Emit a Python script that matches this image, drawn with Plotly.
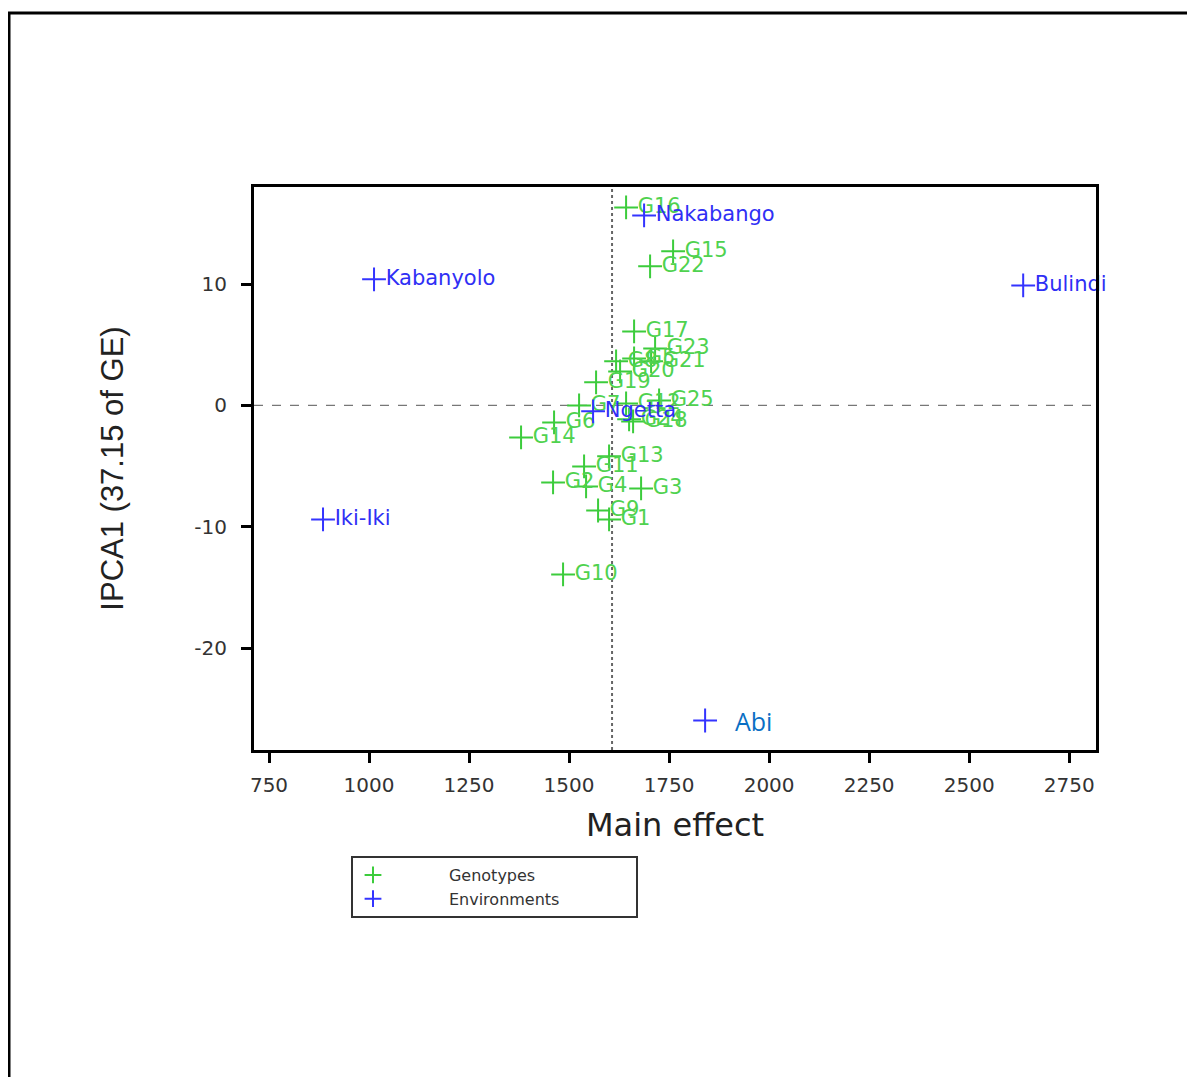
import numpy as np
import plotly.graph_objects as go

# ---------------- data ----------------
geno_names = ["G1", "G2", "G3", "G4", "G5", "G6", "G7", "G8", "G9", "G10",
              "G11", "G12", "G13", "G14", "G15", "G16", "G17", "G18", "G19", "G20",
              "G21", "G22", "G23", "G24", "G25"]
geno_main = [1600, 1460, 1680, 1542.5, 1662.5, 1462.5, 1525, 1617.5, 1572.5, 1485,
             1537.5, 1642.5, 1600, 1380, 1760, 1642.5, 1662.5, 1660, 1567.5, 1627.5,
             1705, 1702.5, 1715, 1650, 1725]
geno_ipca = [-9.40, -6.35, -6.84, -6.68, 3.87, -1.40, 0.0, 3.63, -8.66, -13.93,
             -5.03, 0.16, -4.20, -2.64, 12.70, 16.32, 6.10, -1.32, 1.90, 2.80,
             3.63, 11.46, 4.70, -1.15, 0.41]

env_names = ["Nakabango", "Kabanyolo", "Bulindi", "Ngetta", "Iki-Iki", "Abi"]
env_main = [1687.5, 1012.5, 2635, 1560, 885, 1840]
env_ipca = [15.66, 10.39, 9.89, -0.49, -9.40, -25.97]

x_ticks = [750, 1000, 1250, 1500, 1750, 2000, 2250, 2500, 2750]
y_ticks = [-20, -10, 0, 10]

GREEN = "#3ccc3c"
GREEN_TXT = "#4fd24f"
BLUE = "#3434ff"
BLUE_TXT = "#2f2ff5"
FONT = "DejaVu Sans, Verdana, Arial, sans-serif"

grand_mean = float(np.mean(geno_main))

env_labels = [n if n != "Abi" else "" for n in env_names]

NB = "\u00a0"

fig = go.Figure()
fig.add_trace(go.Scatter(
    x=geno_main, y=geno_ipca, mode="markers+text", name=NB * 11 + "Genotypes" + NB * 18,
    text=geno_names, textposition="middle right",
    textfont=dict(family=FONT, size=21, color=GREEN_TXT),
    marker=dict(symbol="cross-thin", size=17, color=GREEN, line=dict(color=GREEN, width=2)),
    cliponaxis=False,
))
fig.add_trace(go.Scatter(
    x=env_main, y=env_ipca, mode="markers+text", name=NB * 11 + "Environments" + NB * 14,
    text=env_labels, textposition="middle right",
    textfont=dict(family=FONT, size=21, color=BLUE_TXT),
    marker=dict(symbol="cross-thin", size=17, color=BLUE, line=dict(color=BLUE, width=2)),
    cliponaxis=False,
))

# Abi label (added separately in the original, different font/colour)
abi_i = env_names.index("Abi")
fig.add_annotation(x=env_main[abi_i], y=env_ipca[abi_i], text="Abi", showarrow=False,
                   xanchor="left", yanchor="middle", xshift=28,
                   font=dict(family="Open Sans, Noto Sans, sans-serif", size=25, color="#0a6fc4"))

# reference lines
fig.add_shape(type="line", xref="x", yref="paper", x0=grand_mean, x1=grand_mean, y0=0, y1=1,
              line=dict(color="#666666", width=2, dash="dot"), layer="below")
fig.add_shape(type="line", xref="paper", yref="y", x0=0, x1=1, y0=0, y1=0,
              line=dict(color="#777777", width=1.3, dash="dash"), layer="below")

# outer page frame (left and top edges visible)
fig.add_shape(type="rect", xref="paper", yref="paper",
              x0=(8 - 253) / 842, x1=(1215 - 253) / 842,
              y0=(749 - 1100) / 563, y1=(749 - 12) / 563,
              line=dict(color="black", width=3), fillcolor="rgba(0,0,0,0)")

axis_common = dict(
    showline=True, linecolor="black", linewidth=3, mirror=True,
    ticks="outside", ticklen=10, tickwidth=3, tickcolor="black",
    showgrid=False, zeroline=False,
    tickfont=dict(family=FONT, size=20, color="#333333"),
)

fig.update_xaxes(range=[712.5, 2817], tickvals=x_ticks, ticktext=[str(v) for v in x_ticks],
                 title=dict(text="Main effect", font=dict(family=FONT, size=32, color="#222222"),
                            standoff=18),
                 ticklabelstandoff=5, **axis_common)
fig.update_yaxes(range=[-28.4, 18.0], tickvals=y_ticks, ticktext=[str(v) for v in y_ticks],
                 title=dict(text="IPCA1 (37.15 of GE)",
                            font=dict(family="Liberation Sans, Arial, sans-serif",
                                      size=31, color="#222222"),
                            standoff=62),
                 ticklabelstandoff=10, **axis_common)

fig.update_layout(
    width=1195, height=1077,
    margin=dict(l=246, r=107, t=179, b=335),
    paper_bgcolor="white", plot_bgcolor="white",
    showlegend=True,
    legend=dict(x=(350 - 253) / 842, y=(749 - 855) / 563, xanchor="left", yanchor="top",
                bordercolor="#333333", borderwidth=2, bgcolor="white",
                font=dict(family=FONT, size=16, color="#333333"),
                itemsizing="constant", tracegroupgap=0),
)

fig.write_html("out.html")
